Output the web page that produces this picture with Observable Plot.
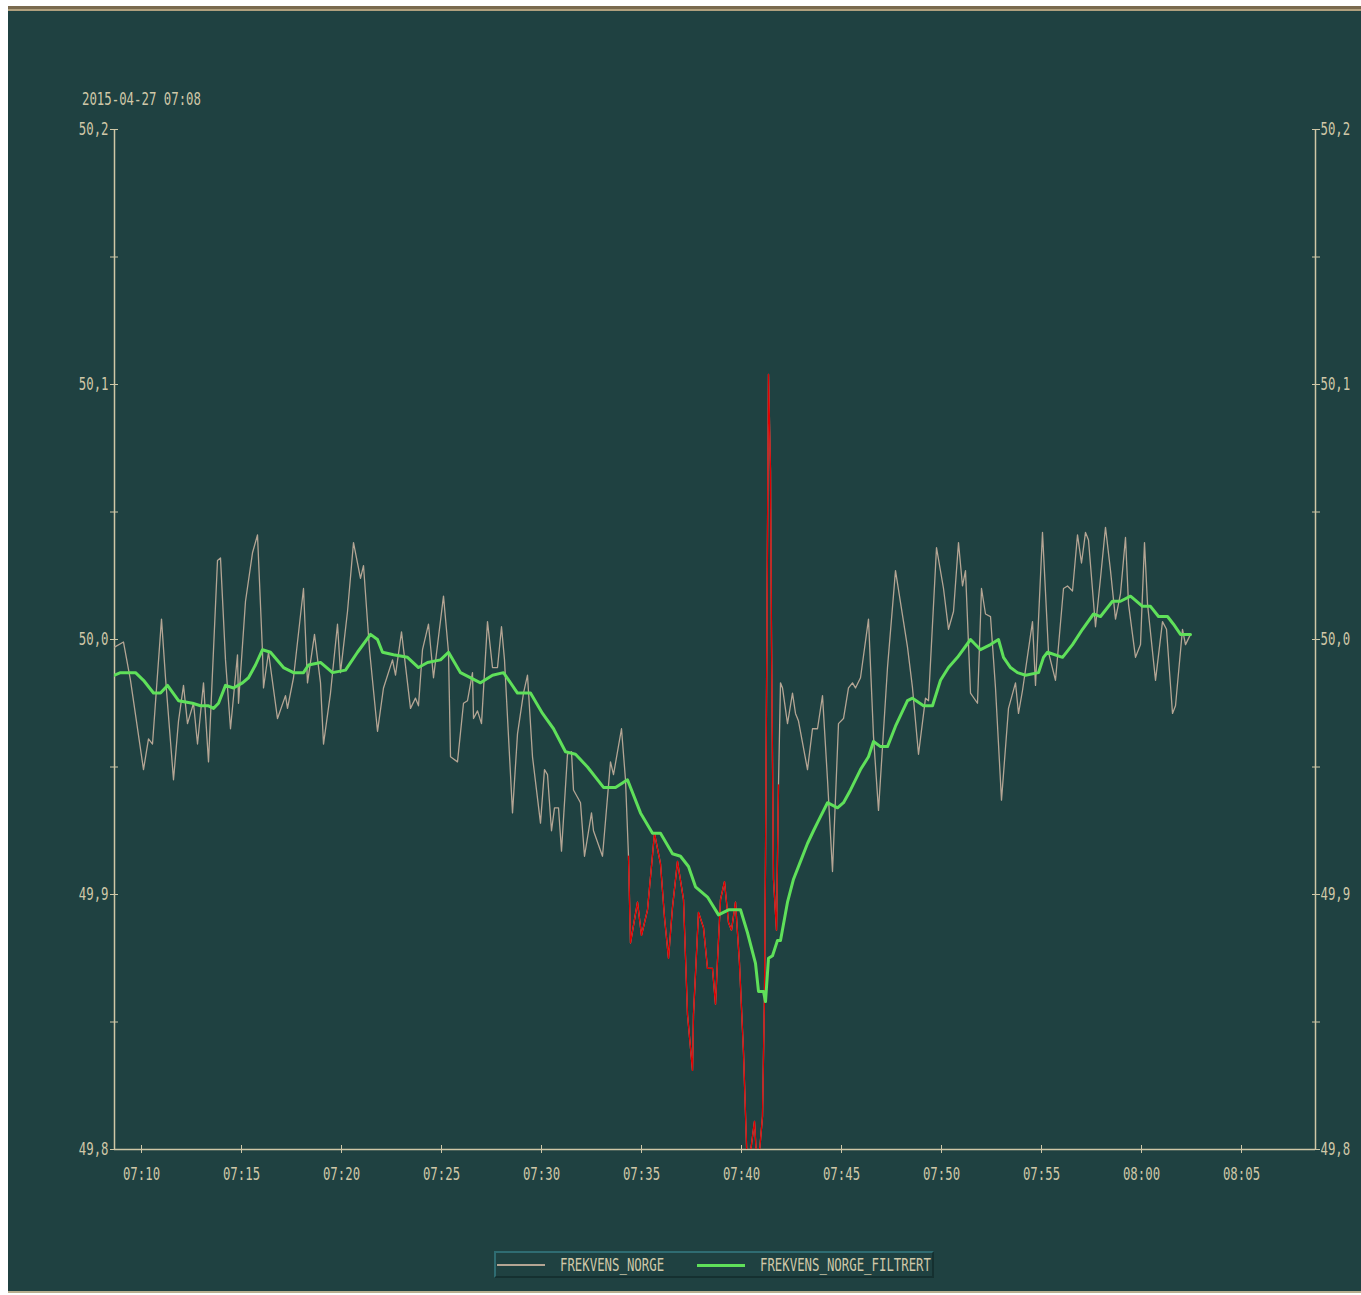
<!DOCTYPE html>
<html>
<head>
<meta charset="utf-8">
<script src="https://cdn.jsdelivr.net/npm/d3@7"></script>
<script src="https://cdn.jsdelivr.net/npm/@observablehq/plot@0.6"></script>
<style>
  html, body { margin: 0; padding: 0; background: #ffffff; width: 1361px; height: 1295px; overflow: hidden; }
  #panel { position: absolute; left: 8px; top: 6px; width: 1353px; height: 1287px; background: #1f4141; border-top: 3px solid #7a6a4e; border-bottom: 2px solid #b8ae8e; box-sizing: border-box; }
  #panel .hl { position: absolute; left: 0; top: 0; width: 100%; height: 2px; background: #b0a07e; }
  #chart { position: absolute; left: 0; top: 0; }
  .txt { font-family: "DejaVu Sans Mono", "Liberation Mono", monospace; font-size: 18px; color: #d0c8a8; white-space: nowrap; }
  .sq { display: inline-block; transform: scaleX(0.686); transform-origin: 0 50%; }
  #title { position: absolute; left: 82px; top: 88px; line-height: 21px; }
  #legend { position: absolute; left: 494px; top: 1251px; width: 440px; height: 27px; box-sizing: border-box; border: 2px solid; border-color: #2f6c72 #153030 #153030 #2f6c72; background: #1f4141; }
  #legend .sw { position: absolute; top: 11px; height: 0; }
  #legend .lab { position: absolute; top: 0; line-height: 23px; }
</style>
</head>
<body>
<div id="panel"><div class="hl"></div></div>
<div id="chart"></div>
<div id="title" class="txt"><span class="sq" id="titleText"></span></div>
<div id="legend" class="txt">
  <div class="sw" style="left:1px;width:48px;border-top:2px solid #b4a594;"></div>
  <div class="lab" style="left:64px;"><span class="sq" id="lab1"></span></div>
  <div class="sw" style="left:201px;width:48px;border-top:3px solid #5fe05a;"></div>
  <div class="lab" style="left:264px;"><span class="sq" id="lab2"></span></div>
</div>
<script>
// ---------- data ----------
const chartDate = "2015-04-27";
const titleText = "2015-04-27 07:08";
const seriesNames = ["FREKVENS_NORGE", "FREKVENS_NORGE_FILTRERT"];

const xDomainTimes = ["07:08:39", "08:08:42"];
const yDomain = [49.8, 50.2];
const yMajorTicks = [49.8, 49.9, 50.0, 50.1, 50.2];
const yMinorTicks = [49.85, 49.95, 50.05, 50.15];
const xTickLabels = ["07:10","07:15","07:20","07:25","07:30","07:35","07:40","07:45","07:50","07:55","08:00","08:05"];

// period where the raw series is drawn as alarm (red)
const alarmPeriod = ["07:34:21", "07:41:51"];

const rawTimes = [
"07:08:39","07:09:06","07:09:27","07:10:06","07:10:21","07:10:33","07:11:00","07:11:12","07:11:36","07:11:51",
"07:12:06","07:12:18","07:12:36","07:12:48","07:13:06","07:13:21","07:13:48","07:13:57","07:14:12","07:14:27",
"07:14:48","07:14:51","07:15:12","07:15:33","07:15:48","07:16:03","07:16:06","07:16:21","07:16:48","07:17:12",
"07:17:18","07:17:36","07:18:06","07:18:18","07:18:39","07:18:57","07:19:06","07:19:27","07:19:48","07:19:57",
"07:20:18","07:20:36","07:20:57","07:21:06","07:21:24","07:21:48","07:22:06","07:22:33","07:22:42","07:23:00",
"07:23:27","07:23:42","07:23:51","07:24:03","07:24:21","07:24:36","07:25:06","07:25:21","07:25:27","07:25:48",
"07:26:06","07:26:18","07:26:33","07:26:36","07:26:48","07:27:00","07:27:18","07:27:33","07:27:48","07:28:00",
"07:28:09","07:28:33","07:28:48","07:29:06","07:29:18","07:29:33","07:29:57","07:30:09","07:30:18","07:30:30",
"07:30:39","07:30:51","07:31:00","07:31:18","07:31:30","07:31:36","07:31:57","07:32:09","07:32:30","07:32:36",
"07:33:03","07:33:27","07:33:36","07:34:00","07:34:12","07:34:21","07:34:27","07:34:48","07:35:00","07:35:18",
"07:35:39","07:35:57","07:36:09","07:36:21","07:36:33","07:36:48","07:37:06","07:37:18","07:37:33","07:37:36",
"07:37:51","07:38:06","07:38:18","07:38:33","07:38:42","07:38:48","07:38:57","07:39:09","07:39:21","07:39:30",
"07:39:42","07:39:54","07:40:06","07:40:18","07:40:39","07:40:48","07:41:03","07:41:09","07:41:12","07:41:21",
"07:41:27","07:41:30","07:41:36","07:41:45","07:41:51","07:41:57","07:42:03","07:42:18","07:42:33","07:42:42",
"07:42:51","07:43:18","07:43:33","07:43:48","07:44:03","07:44:18","07:44:33","07:44:51","07:45:06","07:45:21",
"07:45:33","07:45:42","07:45:57","07:46:21","07:46:36","07:46:51","07:47:18","07:47:42","07:48:18","07:48:33",
"07:48:51","07:49:12","07:49:21","07:49:45","07:50:06","07:50:21","07:50:36","07:50:51","07:51:03","07:51:12",
"07:51:27","07:51:48","07:52:00","07:52:12","07:52:27","07:52:42","07:53:00","07:53:21","07:53:42","07:53:51",
"07:54:03","07:54:33","07:54:42","07:55:03","07:55:21","07:55:42","07:56:06","07:56:18","07:56:33","07:56:48",
"07:57:00","07:57:12","07:57:21","07:57:42","07:57:57","07:58:12","07:58:27","07:58:42","07:58:57","07:59:12",
"07:59:21","07:59:42","07:59:57","08:00:09","08:00:18","08:00:42","08:01:03","08:01:15","08:01:33","08:01:42",
"08:02:03","08:02:12","08:02:27"
];
const rawValues = [
49.997,49.999,49.984,49.949,49.961,49.959,50.008,49.985,49.945,49.968,
49.982,49.967,49.975,49.959,49.983,49.952,50.031,50.032,49.992,49.965,
49.994,49.975,50.015,50.034,50.041,49.995,49.981,49.995,49.969,49.978,
49.973,49.985,50.020,49.983,50.002,49.983,49.959,49.979,50.006,49.987,
50.011,50.038,50.024,50.029,49.996,49.964,49.981,49.992,49.986,50.003,
49.973,49.977,49.974,49.996,50.006,49.985,50.017,49.995,49.954,49.952,
49.975,49.976,49.987,49.969,49.972,49.967,50.007,49.989,49.989,50.005,
49.992,49.932,49.963,49.979,49.986,49.954,49.928,49.949,49.947,49.925,
49.934,49.934,49.917,49.955,49.956,49.941,49.936,49.915,49.932,49.925,
49.915,49.952,49.947,49.965,49.945,49.915,49.881,49.897,49.884,49.894,
49.924,49.912,49.891,49.875,49.895,49.913,49.898,49.853,49.831,49.853,
49.893,49.887,49.871,49.871,49.857,49.874,49.898,49.905,49.889,49.886,
49.897,49.873,49.838,49.790,49.811,49.790,49.813,49.861,49.913,50.104,
50.066,50.000,49.906,49.886,49.943,49.983,49.981,49.967,49.979,49.971,
49.968,49.949,49.965,49.965,49.978,49.945,49.909,49.967,49.969,49.981,
49.983,49.981,49.985,50.008,49.962,49.933,49.989,50.027,49.997,49.981,
49.955,49.977,49.976,50.036,50.020,50.004,50.011,50.038,50.021,50.027,
49.979,49.975,50.020,50.010,50.009,49.981,49.937,49.973,49.983,49.971,
49.980,50.007,49.982,50.042,49.995,49.984,50.020,50.021,50.019,50.041,
50.030,50.042,50.039,50.005,50.024,50.044,50.027,50.008,50.018,50.040,
50.014,49.993,49.998,50.038,50.014,49.984,50.007,50.004,49.971,49.974,
50.004,49.998,50.002
];

const filtTimes = [
"07:08:39","07:08:57","07:09:42","07:10:06","07:10:36","07:10:57","07:11:18","07:11:51","07:12:33","07:12:57",
"07:13:21","07:13:36","07:13:51","07:14:12","07:14:36","07:15:03","07:15:21","07:15:42","07:16:03","07:16:27",
"07:17:06","07:17:36","07:18:06","07:18:21","07:18:57","07:19:33","07:20:12","07:20:48","07:21:27","07:21:48",
"07:22:03","07:22:36","07:23:18","07:23:51","07:24:18","07:24:57","07:25:21","07:25:57","07:26:57","07:27:33",
"07:28:06","07:28:48","07:29:27","07:30:03","07:30:36","07:31:12","07:31:42","07:32:18","07:33:06","07:33:42",
"07:34:18","07:34:57","07:35:33","07:35:57","07:36:33","07:36:57","07:37:21","07:37:42","07:38:18","07:38:51",
"07:39:21","07:39:57","07:40:18","07:40:42","07:40:51","07:41:06","07:41:12","07:41:21","07:41:33","07:41:48",
"07:41:57","07:42:18","07:42:36","07:42:57","07:43:18","07:43:36","07:43:51","07:44:18","07:44:48","07:45:06",
"07:45:27","07:45:57","07:46:21","07:46:36","07:46:57","07:47:18","07:47:42","07:48:18","07:48:33","07:49:06",
"07:49:33","07:49:57","07:50:21","07:50:48","07:51:27","07:51:57","07:52:27","07:52:51","07:53:06","07:53:27",
"07:53:48","07:54:12","07:54:51","07:55:06","07:55:18","07:56:03","07:56:33","07:57:03","07:57:36","07:57:57",
"07:58:33","07:58:57","07:59:27","08:00:03","08:00:27","08:00:51","08:01:18","08:01:36","08:01:57","08:02:27"
];
const filtValues = [
49.986,49.987,49.987,49.984,49.979,49.979,49.982,49.976,49.975,49.974,
49.974,49.973,49.975,49.982,49.981,49.983,49.985,49.990,49.996,49.995,
49.989,49.987,49.987,49.990,49.991,49.987,49.988,49.995,50.002,50.000,
49.995,49.994,49.993,49.989,49.991,49.992,49.995,49.987,49.983,49.986,
49.987,49.979,49.979,49.971,49.965,49.956,49.955,49.950,49.942,49.942,
49.945,49.932,49.924,49.924,49.916,49.915,49.911,49.903,49.899,49.892,
49.894,49.894,49.885,49.873,49.862,49.862,49.858,49.875,49.876,49.882,
49.882,49.897,49.906,49.913,49.920,49.925,49.929,49.936,49.934,49.936,
49.941,49.949,49.954,49.960,49.958,49.958,49.966,49.976,49.977,49.974,
49.974,49.984,49.989,49.993,50.000,49.996,49.998,50.000,49.993,49.989,
49.987,49.986,49.987,49.993,49.995,49.993,49.998,50.004,50.010,50.009,
50.015,50.015,50.017,50.013,50.013,50.009,50.009,50.006,50.002,50.002
];

// ---------- build ----------
const parse = t => new Date(`${chartDate}T${t}Z`);
const raw = rawTimes.map((t, i) => ({t: parse(t), v: rawValues[i]}));
const filt = filtTimes.map((t, i) => ({t: parse(t), v: filtValues[i]}));
const a0 = parse(alarmPeriod[0]), a1 = parse(alarmPeriod[1]);
const alarm = raw.filter(d => d.t >= a0 && d.t <= a1);
const xTicks = xTickLabels.map(s => parse(s + ":00"));
const xDomain = xDomainTimes.map(parse);

const axisColor = "#cfc7a6";
const textColor = "#d0c8a8";
const FONT = '"DejaVu Sans Mono", "Liberation Mono", monospace';
const SX = 0.686;
const yFmt = d => d.toFixed(1).replace(".", ",");
const blank = () => "";

const chart = Plot.plot({
  width: 1361,
  height: 1240,
  marginLeft: 114,
  marginRight: 46,
  marginTop: 129,
  marginBottom: 91,
  style: {background: "transparent", color: textColor, fontFamily: FONT, fontSize: "18px"},
  x: {type: "utc", domain: xDomain},
  y: {domain: yDomain},
  marks: [
    // axis lines
    Plot.ruleX([xDomain[0]], {stroke: axisColor, strokeWidth: 1.5}),
    Plot.ruleX([xDomain[1]], {stroke: axisColor, strokeWidth: 1.5}),
    Plot.ruleY([yDomain[0]], {stroke: axisColor, strokeWidth: 1.5}),
    // left axis
    Plot.axisY({anchor: "left", ticks: yMajorTicks, tickSize: 0, tickPadding: 6, tickFormat: yFmt, label: null, fill: textColor}),
    Plot.axisY({anchor: "left", ticks: yMajorTicks.concat(yMinorTicks), tickSize: 8, dx: 4, tickFormat: blank, label: null, stroke: axisColor}),
    // right axis
    Plot.axisY({anchor: "right", ticks: yMajorTicks, tickSize: 0, tickPadding: 5, tickFormat: yFmt, label: null, fill: textColor}),
    Plot.axisY({anchor: "right", ticks: yMajorTicks.concat(yMinorTicks), tickSize: 8, dx: -4, tickFormat: blank, label: null, stroke: axisColor}),
    // bottom axis
    Plot.axisX({anchor: "bottom", ticks: xTicks, tickSize: 0, tickPadding: 18, tickFormat: d3.utcFormat("%H:%M"), label: null, fill: textColor}),
    Plot.axisX({anchor: "bottom", ticks: xTicks, tickSize: 8, dy: -4, tickFormat: blank, label: null, stroke: axisColor}),
    // series
    Plot.line(raw, {x: "t", y: "v", stroke: "#b4a594", strokeWidth: 1.3, clip: true}),
    Plot.line(alarm, {x: "t", y: "v", stroke: "#e00000", strokeWidth: 1.3, clip: true}),
    Plot.line(filt, {x: "t", y: "v", stroke: "#5fe05a", strokeWidth: 3, clip: true})
  ]
});
// narrow, tall terminal-style glyphs: squeeze each label horizontally around its anchor
chart.querySelectorAll("text").forEach(t => {
  const x = parseFloat(t.getAttribute("x")) || 0;
  const tr = t.getAttribute("transform") || "";
  t.setAttribute("transform", `${tr} translate(${x},0) scale(${SX},1) translate(${-x},0)`);
});
document.getElementById("chart").appendChild(chart);
document.getElementById("titleText").textContent = titleText;
document.getElementById("lab1").textContent = seriesNames[0];
document.getElementById("lab2").textContent = seriesNames[1];
</script>
</body>
</html>
